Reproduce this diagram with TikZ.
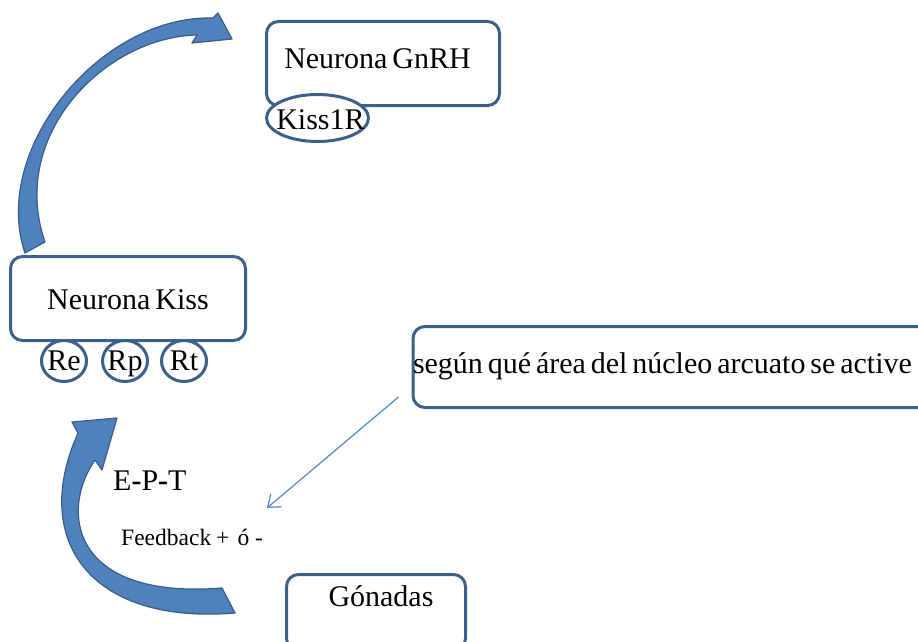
\documentclass[tikz,border=0pt]{standalone}
\usepackage{fontspec}
\setmainfont{Liberation Serif}[WordSpace=0.65]
\usetikzlibrary{arrows.meta,shapes.geometric}
\definecolor{boxline}{RGB}{60,96,140}
\definecolor{arrowfill}{RGB}{79,129,189}
\definecolor{arrowline}{RGB}{56,93,138}
\definecolor{thinline}{RGB}{95,143,201}

\begin{document}
\begin{tikzpicture}[x=1pt,y=-1pt,
  bigtext/.style={font=\fontsize{30}{32}\selectfont},
  smalltext/.style={font=\fontsize{23.5}{25}\selectfont},
  roundbox/.style={draw=boxline, line width=3pt, rounded corners=12pt,
    bigtext, inner sep=0pt, text depth=0pt},
  receptor/.style={draw=boxline, fill=white, line width=3pt, ellipse,
    inner sep=0pt, bigtext, text depth=0pt},
  blockarrow/.style={fill=arrowfill, draw=arrowline, line width=1.2pt,
    line join=round},
  pointer/.style={draw=thinline, line width=1.3pt,
    -{Straight Barb[length=11pt,width=17pt]}},
  plainlabel/.style={inner sep=0pt, anchor=base west}
]
\useasboundingbox (0,0) rectangle (918,642);

% GnRH neuron with its Kiss1 receptor
\node[roundbox, minimum width=233pt, minimum height=84pt, text height=11pt]
  (gnrh) at (383,63.5) {Neurona GnRH\kern11pt};
\node[receptor, minimum width=102pt, minimum height=47pt, text height=22pt]
  (kissr) at (317.5,118) {\makebox[0pt]{\kern6pt Kiss1R}};

% Kiss neuron and its receptors
\node[roundbox, minimum width=235pt, minimum height=84pt, text height=21pt]
  (kiss) at (128,298.5) {Neurona Kiss};
\node[receptor, minimum width=45pt, minimum height=41pt, text height=18pt]
  (re) at (64,361) {\makebox[0pt]{Re}};
\node[receptor, minimum width=45pt, minimum height=41pt, text height=18pt]
  (rp) at (125,361) {\makebox[0pt]{Rp}};
\node[receptor, minimum width=45pt, minimum height=41pt, text height=18pt]
  (rt) at (184,361) {\makebox[0pt]{Rt}};

% Arcuate nucleus note (runs past the right edge)
\node[roundbox, anchor=west, text height=12pt, minimum height=81pt,
  inner xsep=0pt]
  (area) at (411.5,367)
  {\makebox[558pt][l]{según qué área del núcleo arcuato se active}};

% Gonads
\node[roundbox, minimum width=179pt, minimum height=76pt, text height=0pt,
  text depth=13pt] (gonadas) at (376,612.5) {\kern10pt Gónadas};

% Feedback labels
\node[plainlabel, bigtext] (ept) at (113,490) {E\textbf{-}P\textbf{-}T};
\node[plainlabel, smalltext] (feedback) at (121,545)
  {Feedback\kern5pt+\kern8ptó\kern6pt-};

% Pointer from the note towards the feedback label
\coordinate (pointsrc) at ([shift={(-13,30)}]area.west);
\coordinate (pointdst) at (267,508);
\draw[pointer] (pointsrc) -- (pointdst);

% Curved block arrow: Kiss neuron -> GnRH neuron
\draw[blockarrow]
  (25,253) .. controls (-10,150) and (100,15) .. (213,18)
  -- (218,13) -- (232,39) -- (192,43) -- (197,35)
  .. controls (105,37) and (8,135) .. (45,242) -- cycle;

% Curved block arrow: gonads -> Kiss neuron
\draw[blockarrow]
  (78,433) -- (72,422) -- (117,418) -- (102,470) -- (95,460)
  .. controls (60,510) and (70,600) .. (222,588)
  -- (235,613)
  .. controls (90,625) and (30,540) .. (78,433) -- cycle;
\end{tikzpicture}
\end{document}
